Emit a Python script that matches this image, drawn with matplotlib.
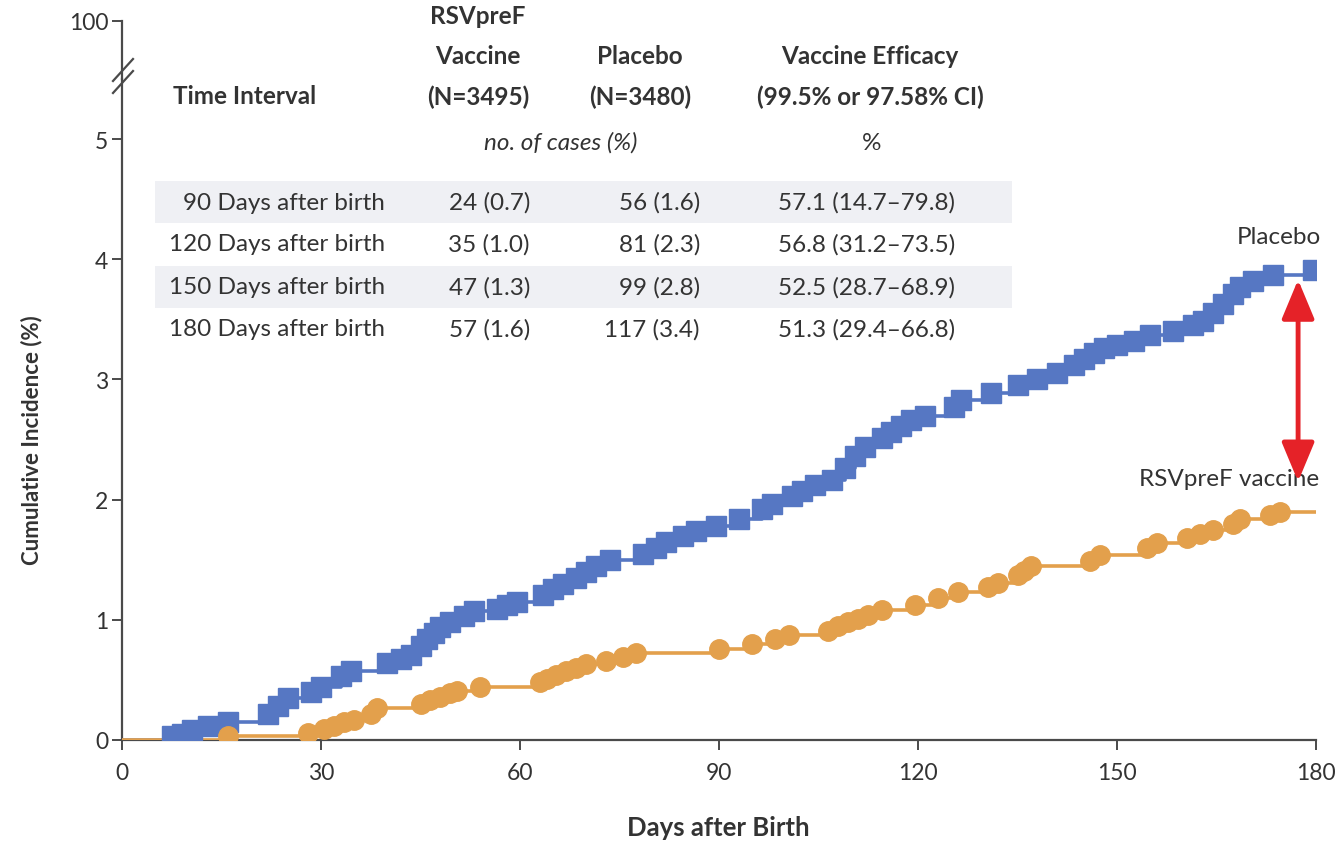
import matplotlib
matplotlib.use("Agg")
import matplotlib.pyplot as plt
from matplotlib.patches import Rectangle
from matplotlib.lines import Line2D

plt.rcParams['font.family'] = ['Lato', 'DejaVu Sans']

# ---- Cumulative incidence data (days after birth, cumulative %) ----
placebo_days = [7.5, 9, 10.5, 13, 16, 22, 23.5, 25, 28.5, 30, 33, 34.5, 40, 42, 43.5,
                45, 46, 47, 48, 49.5, 51.5, 53, 56.5, 58, 59.5, 63.5, 65, 66.5, 68.5,
                70, 71.5, 73.5, 78.5, 80.5, 82, 84.5, 86.5, 89.5, 93, 96.5, 98, 101,
                102.5, 104.5, 107, 109, 110.5, 112, 114.5, 116, 117.5, 119, 121, 125.5,
                126.5, 131, 135, 138, 141, 143.5, 145, 146.5, 148, 150, 152.5, 155,
                158.5, 161.5, 163, 164.5, 166, 167.5, 168.5, 170.5, 173.5, 179.5]
placebo_inc = [0.03, 0.05, 0.08, 0.12, 0.15, 0.22, 0.28, 0.35, 0.40, 0.44, 0.53, 0.57,
               0.64, 0.67, 0.71, 0.78, 0.84, 0.89, 0.94, 0.98, 1.03, 1.07, 1.09, 1.12,
               1.15, 1.21, 1.26, 1.30, 1.35, 1.40, 1.45, 1.50, 1.55, 1.60, 1.65, 1.70,
               1.74, 1.78, 1.84, 1.92, 1.96, 2.03, 2.07, 2.12, 2.16, 2.26, 2.36, 2.44,
               2.51, 2.56, 2.61, 2.66, 2.70, 2.77, 2.83, 2.89, 2.95, 3.00, 3.05, 3.12,
               3.17, 3.22, 3.26, 3.29, 3.32, 3.37, 3.40, 3.45, 3.49, 3.55, 3.63, 3.71,
               3.77, 3.82, 3.87, 3.91]

vaccine_days = [16, 28, 30.5, 32, 33.5, 35, 37.5, 38.5, 45, 46.5, 48, 49.5, 50.5, 54,
                63, 64, 65.5, 67, 68.5, 70, 73, 75.5, 77.5, 90, 95, 98.5, 100.5, 106.5,
                108, 109.5, 111, 112.5, 114.5, 119.5, 123, 126, 130.5, 132, 135, 136,
                137, 146, 147.5, 154.5, 156, 160.5, 162.5, 164.5, 167.5, 168.5, 173,
                174.5]
vaccine_inc = [0.03, 0.06, 0.09, 0.12, 0.15, 0.17, 0.22, 0.27, 0.30, 0.33, 0.36, 0.39,
               0.41, 0.44, 0.48, 0.51, 0.54, 0.57, 0.60, 0.63, 0.66, 0.69, 0.72, 0.76,
               0.80, 0.84, 0.87, 0.91, 0.95, 0.98, 1.01, 1.04, 1.08, 1.12, 1.18, 1.23,
               1.27, 1.31, 1.37, 1.41, 1.45, 1.49, 1.54, 1.60, 1.64, 1.68, 1.71, 1.75,
               1.80, 1.84, 1.87, 1.90]

# ---- Inset table ----
table_header = ["Time Interval", "RSVpreF\nVaccine\n(N=3495)", "Placebo\n(N=3480)",
                "Vaccine Efficacy\n(99.5% or 97.58% CI)"]
intervals = ["90 Days after birth", "120 Days after birth",
             "150 Days after birth", "180 Days after birth"]
vaccine_cases = ["24 (0.7)", "35 (1.0)", "47 (1.3)", "57 (1.6)"]
placebo_cases = ["56 (1.6)", "81 (2.3)", "99 (2.8)", "117 (3.4)"]
efficacy = ["57.1 (14.7\u201379.8)", "56.8 (31.2\u201373.5)",
            "52.5 (28.7\u201368.9)", "51.3 (29.4\u201366.8)"]

x_ticks = [0, 30, 60, 90, 120, 150, 180]
y_ticks = [0, 1, 2, 3, 4, 5]

BLUE = '#5677C3'
ORANGE = '#E3A04C'
RED = '#E52228'
TXT = '#333333'
AX = '#4a4a4a'

W, H = 1337, 845
fig = plt.figure(figsize=(W / 100, H / 100), dpi=100)


def fx(px):
    return px / W


def fy(py):
    return 1 - py / H


# main panel and the small top panel holding the 100 tick (broken axis)
ax = fig.add_axes([fx(122), fy(741), fx(1316) - fx(122), fy(80) - fy(741)])
ax_top = fig.add_axes([fx(122), fy(80), fx(1316) - fx(122), fy(22) - fy(80)])

ax.set_xlim(0, 180)
ax.set_ylim(0, 5.5)
ax_top.set_xlim(0, 180)
ax_top.set_ylim(97, 100)

for a in (ax, ax_top):
    a.patch.set_alpha(0)
    a.spines['top'].set_visible(False)
    a.spines['right'].set_visible(False)
    for s in a.spines.values():
        s.set_color(AX)
        s.set_linewidth(1.6)
    a.tick_params(direction='out', length=7, width=1.4, color=AX,
                  labelsize=16.5, labelcolor=TXT, pad=3)
ax_top.spines['bottom'].set_visible(False)
ax_top.set_xticks([])
ax_top.set_yticks([100])

ax.set_xticks(x_ticks)
ax.set_yticks(y_ticks)
ax.tick_params(axis='x', pad=9)

# break marks on the y axis
for dy in (-6, 6):
    fig.add_artist(Line2D([fx(113), fx(133)], [fy(88 + dy), fy(66 + dy)],
                          color=AX, lw=1.6, transform=fig.transFigure))

# shaded table rows
row_y = [203, 245, 288, 330]
for i in (0, 2):
    ax.add_patch(Rectangle((fx(155), fy(row_y[i] + 21)), fx(1012) - fx(155), 42 / H,
                           transform=fig.transFigure, facecolor='#EFF0F4',
                           edgecolor='none', zorder=0))

# step curves with event markers
ax.step([0] + placebo_days + [180], [0] + placebo_inc + [placebo_inc[-1]],
        where='post', color=BLUE, lw=2.6, zorder=3)
ax.plot(placebo_days, placebo_inc, ls='none', marker='s', ms=15,
        color=BLUE, zorder=4)
ax.step([0] + vaccine_days + [180], [0] + vaccine_inc + [vaccine_inc[-1]],
        where='post', color=ORANGE, lw=2.6, zorder=3)
ax.plot(vaccine_days, vaccine_inc, ls='none', marker='o', ms=14,
        color=ORANGE, zorder=4)

fs = 17.5
# curve labels (kept beneath the arrow)
ax.text(fx(1279), fy(237), "Placebo", ha='center', va='center', fontsize=fs,
        color=TXT, transform=fig.transFigure, zorder=2, clip_on=False)
ax.text(fx(1229), fy(480), "RSVpreF vaccine", ha='center', va='center',
        fontsize=fs, color=TXT, transform=fig.transFigure, zorder=2, clip_on=False)

# difference arrow between the two curves
ax.annotate('', xy=(177.3, 3.83), xytext=(177.3, 2.15),
            arrowprops=dict(arrowstyle='<|-|>,head_length=1.2,head_width=0.5',
                            color=RED, lw=3.5, mutation_scale=20,
                            shrinkA=0, shrinkB=0), zorder=5)

# table header
hdr_lines = [173, 478, 640, 870]
fig.text(fx(hdr_lines[0]), fy(97), table_header[0], ha='left', va='center',
         fontsize=fs, fontweight='bold', color=TXT)
for col, text in zip(hdr_lines[1:], table_header[1:]):
    lines = text.split('\n')
    for k, line in enumerate(reversed(lines)):
        fig.text(fx(col), fy(97 - 40 * k), line, ha='center', va='center',
                 fontsize=fs, fontweight='bold', color=TXT)
fig.text(fx(561), fy(143), "no. of cases (%)", ha='center', va='center',
         fontsize=fs, fontstyle='italic', color=TXT)
fig.text(fx(872), fy(143), "%", ha='center', va='center', fontsize=fs, color=TXT)

# table body
for i, yy in enumerate(row_y):
    fig.text(fx(385), fy(yy), intervals[i], ha='right', va='center', fontsize=fs, color=TXT)
    fig.text(fx(530), fy(yy), vaccine_cases[i], ha='right', va='center', fontsize=fs, color=TXT)
    fig.text(fx(700), fy(yy), placebo_cases[i], ha='right', va='center', fontsize=fs, color=TXT)
    fig.text(fx(778), fy(yy), efficacy[i], ha='left', va='center', fontsize=fs, color=TXT)

# axis titles
fig.text(fx(32), fy(440), "Cumulative Incidence (%)", rotation=90, ha='center',
         va='center', fontsize=16, fontweight='bold', color=TXT)
fig.text(fx(718), fy(828), "Days after Birth", ha='center', va='center',
         fontsize=18.5, fontweight='bold', color=TXT)

fig.savefig("out.png", dpi=100, facecolor='white')
